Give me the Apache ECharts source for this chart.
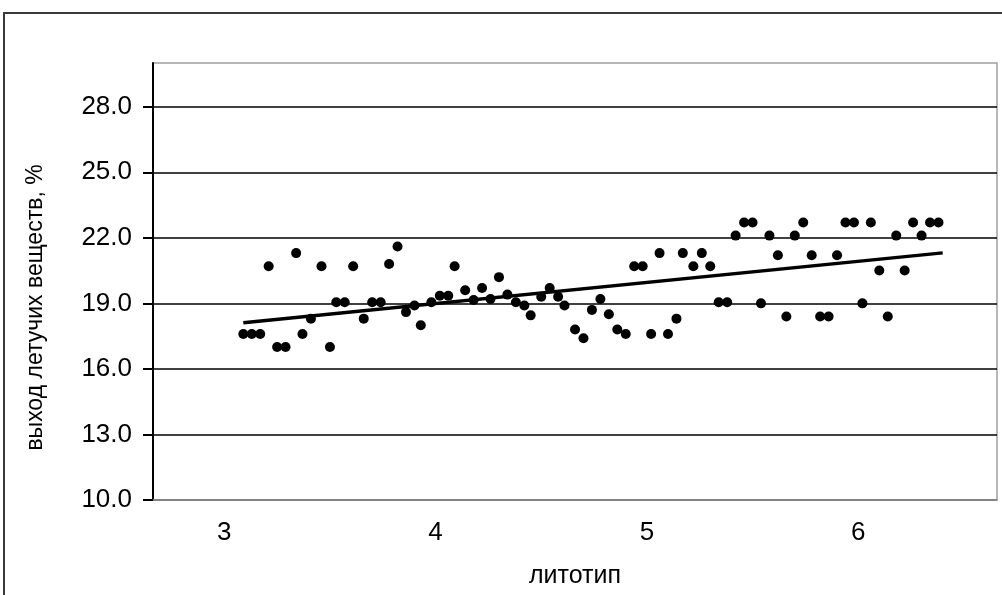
<!DOCTYPE html>
<html>
<head>
<meta charset="utf-8">
<script src="https://cdn.jsdelivr.net/npm/echarts@6/dist/echarts.min.js"></script>
<style>
  html, body { margin: 0; padding: 0; background: #fff; }
  #chart { width: 1002px; height: 595px; }
</style>
</head>
<body>
<div id="chart"></div>
<script>
// lithotype (x) values
const lithotype = [
  3.09, 3.13, 3.17, 3.21, 3.25, 3.29, 3.34, 3.37, 3.41, 3.46,
  3.50, 3.53, 3.57, 3.61, 3.66, 3.70, 3.74, 3.78, 3.82, 3.86,
  3.90, 3.93, 3.98, 4.02, 4.06, 4.09, 4.14, 4.18, 4.22, 4.26,
  4.30, 4.34, 4.38, 4.42, 4.45, 4.50, 4.54, 4.58, 4.61, 4.66,
  4.70, 4.74, 4.78, 4.82, 4.86, 4.90, 4.94, 4.98, 5.02, 5.06,
  5.10, 5.14, 5.17, 5.22, 5.26, 5.30, 5.34, 5.38, 5.42, 5.46,
  5.50, 5.54, 5.58, 5.62, 5.66, 5.70, 5.74, 5.78, 5.82, 5.86,
  5.90, 5.94, 5.98, 6.02, 6.06, 6.10, 6.14, 6.18, 6.22, 6.26,
  6.30, 6.34, 6.38
];
// volatile matter yield, %
const volatiles = [
  17.6, 17.6, 17.6, 20.7, 17.0, 17.0, 21.3, 17.6, 18.3, 20.7,
  17.0, 19.05, 19.05, 20.7, 18.3, 19.05, 19.05, 20.8, 21.6, 18.6,
  18.9, 18.0, 19.05, 19.35, 19.35, 20.7, 19.6, 19.15, 19.7, 19.2,
  20.2, 19.4, 19.05, 18.9, 18.45, 19.3, 19.7, 19.3, 18.9, 17.8,
  17.4, 18.7, 19.2, 18.5, 17.8, 17.6, 20.7, 20.7, 17.6, 21.3,
  17.6, 18.3, 21.3, 20.7, 21.3, 20.7, 19.05, 19.05, 22.1, 22.7,
  22.7, 19.0, 22.1, 21.2, 18.4, 22.1, 22.7, 21.2, 18.4, 18.4,
  21.2, 22.7, 22.7, 19.0, 22.7, 20.5, 18.4, 22.1, 20.5, 22.7,
  22.1, 22.7, 22.7
];
// linear trend line end points
const trendX = [3.09, 6.40];
const trendY = [18.11, 21.31];
// tick labels
const xTicks = [3, 4, 5, 6];
const yTicks = [10, 13, 16, 19, 22, 25, 28];

const points = lithotype.map((x, i) => [x, volatiles[i]]);
const trend = trendX.map((x, i) => [x, trendY[i]]);

const FONT = '"Liberation Sans", Arial, sans-serif';
const chart = echarts.init(document.getElementById('chart'), null, { renderer: 'canvas' });
chart.setOption({
  animation: false,
  backgroundColor: '#fff',
  graphic: [{
    type: 'rect',
    shape: { x: 4, y: 13, width: 1200, height: 800 },
    style: { fill: 'none', stroke: '#3a3a3a', lineWidth: 2 },
    silent: true
  }],
  grid: {
    left: 153, right: 5, top: 63, bottom: 95,
    show: true, borderColor: '#a0a0a0', borderWidth: 1.5,
    backgroundColor: '#fff'
  },
  xAxis: {
    type: 'value',
    min: 2.6626, max: 6.657,
    name: 'литотип',
    nameLocation: 'middle',
    nameGap: 64,
    nameTextStyle: { fontFamily: FONT, fontSize: 25, color: '#000' },
    axisLine: { show: true, lineStyle: { color: '#a0a0a0', width: 1.5 } },
    axisTick: { show: false },
    splitLine: { show: false },
    axisLabel: {
      customValues: xTicks,
      margin: 20,
      fontFamily: FONT, fontSize: 26, color: '#000',
      formatter: v => String(Math.round(v))
    }
  },
  yAxis: {
    type: 'value',
    min: 10, max: 30,
    name: 'выход летучих веществ, %',
    nameLocation: 'middle',
    nameGap: 106,
    nameRotate: 90,
    nameTextStyle: { fontFamily: FONT, fontSize: 23, color: '#000', padding: [0, 52, 0, 0] },
    axisLine: { show: true, lineStyle: { color: '#000', width: 2 } },
    axisTick: { show: true, customValues: yTicks, length: 10, lineStyle: { color: '#000', width: 2 } },
    splitLine: { show: true, lineStyle: { color: '#000', width: 1.5 } },
    axisLabel: {
      customValues: yTicks,
      margin: 21,
      fontFamily: FONT, fontSize: 26, color: '#000',
      formatter: v => v.toFixed(1)
    }
  },
  series: [
    {
      type: 'scatter',
      data: points,
      symbol: 'circle',
      symbolSize: 10,
      itemStyle: { color: '#000', opacity: 1 },
      z: 3
    },
    {
      type: 'line',
      data: trend,
      symbol: 'none',
      lineStyle: { color: '#000', width: 3.5 },
      z: 4
    }
  ]
});
</script>
</body>
</html>
